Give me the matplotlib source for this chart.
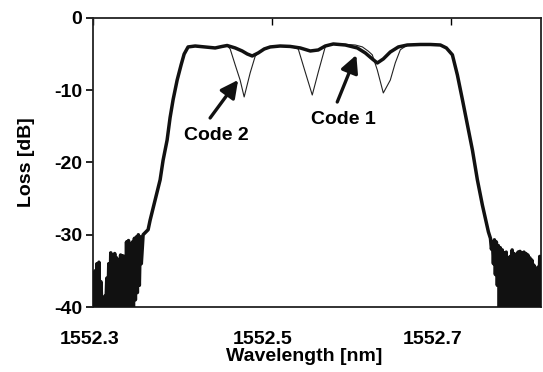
import matplotlib
matplotlib.use("Agg")
import matplotlib.pyplot as plt
from matplotlib.transforms import ScaledTranslation

plt.rcParams['font.family'] = ['Liberation Sans', 'DejaVu Sans']
plt.rcParams['font.weight'] = 'bold'
plt.rcParams['axes.unicode_minus'] = False

# ---- data ----
# noisy floor on the left (wavelength offset from 1552 nm, loss dB)
noise_left_w = [0.3000, 0.3011, 0.3022, 0.3033, 0.3044, 0.3055, 0.3066, 0.3077, 0.3088, 0.3099,
                0.3110, 0.3121, 0.3132, 0.3143, 0.3154, 0.3165, 0.3176, 0.3187, 0.3198, 0.3209,
                0.3220, 0.3231, 0.3242, 0.3253, 0.3264, 0.3275, 0.3286, 0.3297, 0.3308, 0.3319,
                0.3330, 0.3341, 0.3352, 0.3363, 0.3374, 0.3385, 0.3396, 0.3407, 0.3418, 0.3429,
                0.3440, 0.3451, 0.3462, 0.3473, 0.3484, 0.3495, 0.3506, 0.3517, 0.3528, 0.3539]
noise_left_db = [-36.0, -40.0, -35.0, -40.0, -34.0, -38.0, -33.8, -40.0, -36.5, -40.0,
                 -39.0, -40.0, -38.5, -40.0, -36.0, -40.0, -34.0, -40.0, -32.5, -40.0,
                 -33.5, -40.0, -32.6, -40.0, -33.2, -40.0, -33.6, -40.0, -32.8, -40.0,
                 -32.9, -40.0, -33.0, -40.0, -31.0, -40.0, -30.8, -40.0, -31.5, -40.0,
                 -31.0, -40.0, -30.5, -39.0, -30.3, -38.0, -30.0, -37.0, -30.3, -34.0]

# main passband of the thick trace
band_w = [0.3559, 0.3615, 0.3637, 0.3693, 0.3749, 0.3782, 0.3827, 0.3860, 0.3894, 0.3939,
          0.3983, 0.4017, 0.4061, 0.4140, 0.4251, 0.4363, 0.4441, 0.4497, 0.4587, 0.4665,
          0.4721, 0.4777, 0.4844, 0.4911, 0.4978, 0.5089, 0.5201, 0.5313, 0.5425, 0.5514,
          0.5592, 0.5682, 0.5816, 0.5950, 0.6039, 0.6117, 0.6173, 0.6240, 0.6318, 0.6408,
          0.6508, 0.6654, 0.6765, 0.6877, 0.6944, 0.7011, 0.7067, 0.7123, 0.7179, 0.7235,
          0.7290, 0.7346, 0.7413]
band_db = [-30.0, -29.3, -28.0, -25.2, -22.4, -19.7, -16.9, -13.8, -11.3, -8.6,
           -6.5, -5.0, -4.01, -3.88, -4.01, -4.15, -3.94, -3.81, -4.15, -4.57,
           -4.98, -5.26, -4.84, -4.29, -4.01, -3.88, -3.94, -4.15, -4.57, -4.43,
           -3.88, -3.60, -3.74, -4.15, -4.84, -5.67, -6.23, -5.67, -4.71, -4.01,
           -3.74, -3.67, -3.67, -3.74, -4.15, -5.1, -7.9, -11.3, -14.8, -18.3,
           -22.4, -25.9, -29.6]

# noisy floor on the right
noise_right_w = [0.7436, 0.7447, 0.7458, 0.7469, 0.7480, 0.7491, 0.7502, 0.7513, 0.7524, 0.7535,
                 0.7546, 0.7557, 0.7568, 0.7579, 0.7590, 0.7601, 0.7612, 0.7623, 0.7634, 0.7645,
                 0.7656, 0.7667, 0.7678, 0.7689, 0.7700, 0.7711, 0.7722, 0.7733, 0.7744, 0.7755,
                 0.7766, 0.7777, 0.7788, 0.7799, 0.7810, 0.7821, 0.7832, 0.7843, 0.7854, 0.7865,
                 0.7876, 0.7887, 0.7898, 0.7909, 0.7920, 0.7931, 0.7942, 0.7953, 0.7964, 0.7975,
                 0.7986, 0.7997]
noise_right_db = [-30.5, -32.0, -31.0, -34.0, -30.7, -35.5, -31.0, -37.0, -31.5, -40.0,
                  -31.8, -40.0, -32.1, -40.0, -32.5, -40.0, -32.4, -40.0, -33.2, -40.0,
                  -33.0, -40.0, -32.1, -40.0, -32.6, -40.0, -32.8, -40.0, -32.4, -40.0,
                  -32.3, -40.0, -32.5, -40.0, -32.4, -40.0, -32.6, -40.0, -32.8, -40.0,
                  -33.2, -40.0, -33.5, -40.0, -34.2, -40.0, -35.8, -40.0, -34.5, -40.0,
                  -33.0, -40.0]

# thin trace (with the three deep notches)
thin_w = [0.4441, 0.4497, 0.4531, 0.4587, 0.4642, 0.4687, 0.4754, 0.4810, 0.4844, 0.4911,
          0.4978, 0.5089, 0.5201, 0.5291, 0.5369, 0.5447, 0.5514, 0.5592, 0.5682, 0.5816,
          0.5927, 0.6006, 0.6073, 0.6117, 0.6173, 0.6240, 0.6318, 0.6374, 0.6430, 0.6508]
thin_db = [-3.94, -3.81, -4.3, -6.5, -8.6, -10.93, -7.6, -5.3, -4.84, -4.29,
           -4.01, -3.88, -3.94, -4.3, -7.5, -10.66, -7.5, -4.0, -3.60, -3.65,
           -3.74, -4.0, -4.6, -5.1, -7.2, -10.38, -8.6, -6.2, -4.4, -3.74]

base_nm = 1552.0
x_ticks = [1552.3, 1552.5, 1552.7]
x_ticklabels = ["1552.3", "1552.5", "1552.7"]
y_ticks = [0, -10, -20, -30, -40]

# annotation labels and arrows (text baseline position, arrow tail, arrow head)
labels = ["Code 2", "Code 1"]
label_pos = [(1552.438, -16.9), (1552.5793, -14.67)]
arrow_tail = [(1552.4307, -13.84), (1552.5726, -11.63)]
arrow_head = [(1552.462, -8.58), (1552.5939, -5.12)]

# ---- figure ----
fig = plt.figure(figsize=(5.43, 3.72), dpi=100)
ax = fig.add_axes([0.1713, 0.1747, 0.825, 0.777])

thick_w = [base_nm + v for v in noise_left_w + band_w + noise_right_w]
thick_db = noise_left_db + band_db + noise_right_db
ax.plot(thick_w, thick_db, color='#111111', lw=2.5, solid_joinstyle='round', zorder=3)
ax.plot([base_nm + v for v in thin_w], thin_db, color='#222222', lw=0.8, zorder=2)

ax.set_xlim(1552.3, 1552.8)
ax.set_ylim(-40, 0)
ax.set_xticks(x_ticks)
ax.set_xticklabels(x_ticklabels)
ax.set_yticks(y_ticks)

ax.tick_params(axis='x', direction='in', top=True, bottom=False, length=5,
               width=1, labelsize=14, pad=17)
ax.tick_params(axis='y', direction='out', length=5, width=1.2, labelsize=14, pad=3)
for s in ax.spines.values():
    s.set_linewidth(1.3)
    s.set_color('#222222')

# the reference's tick labels sit slightly left of their tick marks
label_shift_px = [-3, -10, -19]
for lab, dx in zip(ax.get_xticklabels(), label_shift_px):
    lab.set_transform(lab.get_transform() + ScaledTranslation(dx / 100, 0, fig.dpi_scale_trans))

ax.set_xlabel("Wavelength [nm]", fontsize=14, fontweight='bold')
ax.xaxis.set_label_coords(0.471, -0.142)
ax.set_ylabel("Loss [dB]", fontsize=14, fontweight='bold')
ax.yaxis.set_label_coords(-0.129, 0.5)

for txt, pos, tail, head in zip(labels, label_pos, arrow_tail, arrow_head):
    ax.text(pos[0], pos[1], txt, fontsize=14, fontweight='bold', ha='center', va='baseline')
    ax.annotate("", xy=head, xytext=tail, fontsize=14,
                arrowprops=dict(arrowstyle='-|>,head_length=0.75,head_width=0.38',
                                color='#111111', lw=2.4, shrinkA=0, shrinkB=0))

fig.savefig("out.png", dpi=100)
